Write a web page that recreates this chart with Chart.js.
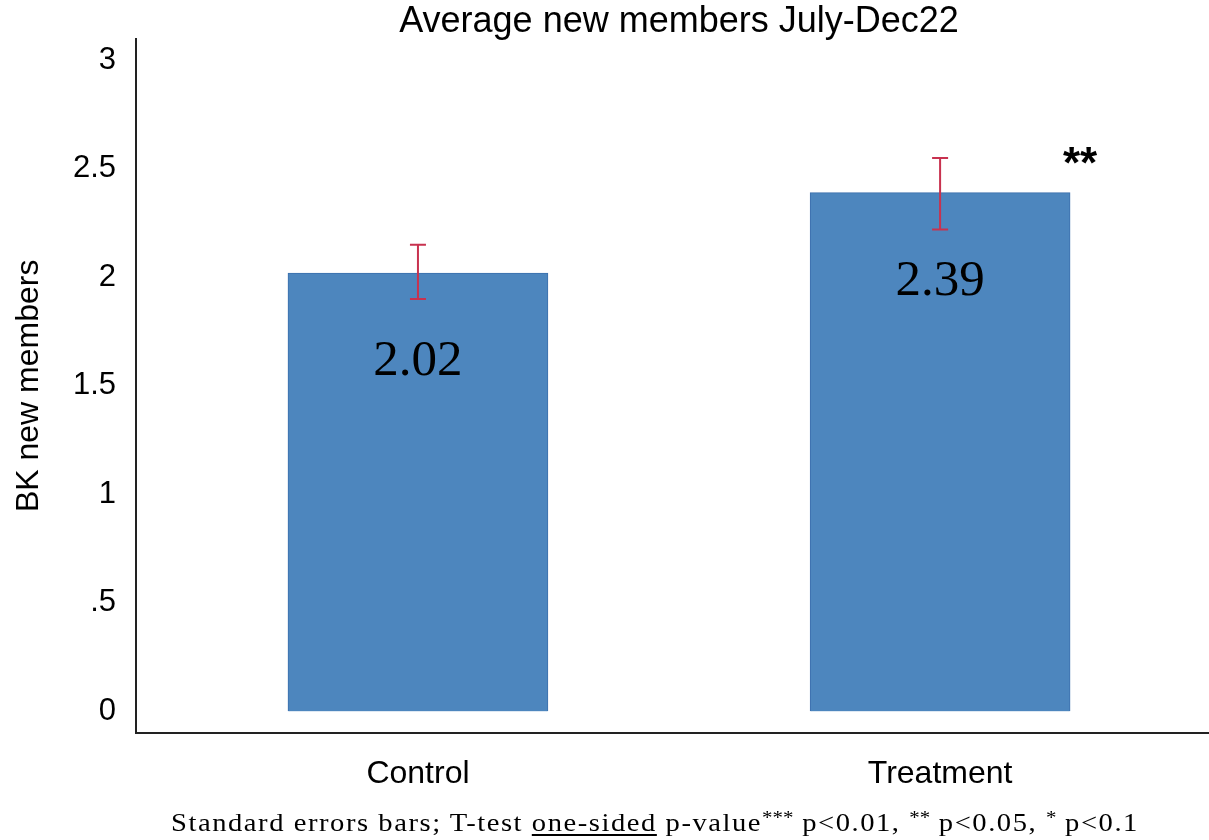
<!DOCTYPE html>
<html>
<head>
<meta charset="utf-8">
<script src="https://cdn.jsdelivr.net/npm/chart.js@4.4.1/dist/chart.umd.min.js"></script>
<style>
  html, body { margin: 0; padding: 0; background: #ffffff; }
  #wrap { position: relative; width: 1209px; height: 840px; overflow: hidden; }
  #c { position: absolute; left: 0; top: 0; }
  #note {
    position: absolute; left: 0; width: 1310px; top: 807px; text-align: center;
    font-family: "Liberation Serif", "Times New Roman", serif; font-size: 26px; color: #000;
    letter-spacing: 1.4px; white-space: nowrap;
    transform: scaleX(1.1); transform-origin: 655px 0;
  }
  #note sup { font-size: 19px; vertical-align: 7px; letter-spacing: 0; }
  #note u { text-decoration-thickness: 1.5px; text-underline-offset: 3px; }
</style>
</head>
<body>
<div id="wrap">
  <canvas id="c" width="1209" height="840"></canvas>
  <div id="note">Standard errors bars; T-test <u>one-sided</u> p-value<sup>***</sup> p&lt;0.01, <sup>**</sup> p&lt;0.05, <sup>*</sup> p&lt;0.1</div>
</div>
<script>
// ---- data ----
const categories = ['Control', 'Treatment'];
const catPositions = [1, 2];
const means = [2.02, 2.39];
const errLow = [1.90, 2.22];
const errHigh = [2.15, 2.55];
const valueLabels = ['2.02', '2.39'];
const sigMarks = ['', '**'];
const yTickValues = [0, 0.5, 1, 1.5, 2, 2.5, 3];
const yTickLabels = ['0', '.5', '1', '1.5', '2', '2.5', '3'];
const titleText = 'Average new members July-Dec22';
const yAxisTitle = 'BK new members';

const barData = catPositions.map((x, i) => ({ x: x, y: means[i] }));

const overlayPlugin = {
  id: 'overlay',
  afterDatasetsDraw(chart) {
    const ctx = chart.ctx;
    const xs = chart.scales.x, ys = chart.scales.y;
    ctx.save();
    // error bars
    ctx.strokeStyle = '#C8324F';
    ctx.lineWidth = 2;
    for (let i = 0; i < means.length; i++) {
      const x = xs.getPixelForValue(catPositions[i]);
      const yt = ys.getPixelForValue(errHigh[i]);
      const yb = ys.getPixelForValue(errLow[i]);
      ctx.beginPath();
      ctx.moveTo(x, yt); ctx.lineTo(x, yb);
      ctx.moveTo(x - 8, yt); ctx.lineTo(x + 8, yt);
      ctx.moveTo(x - 8, yb); ctx.lineTo(x + 8, yb);
      ctx.stroke();
    }
    // value labels
    ctx.fillStyle = '#000';
    ctx.font = '51px "Liberation Serif", "Times New Roman", serif';
    ctx.textAlign = 'center';
    ctx.textBaseline = 'middle';
    for (let i = 0; i < means.length; i++) {
      const x = xs.getPixelForValue(catPositions[i]);
      const y = ys.getPixelForValue(means[i]) + 89;
      ctx.fillText(valueLabels[i], x, y);
    }
    // significance marks
    ctx.font = 'bold 44px "Liberation Sans", Arial, sans-serif';
    for (let i = 0; i < means.length; i++) {
      if (!sigMarks[i]) continue;
      const x = xs.getPixelForValue(catPositions[i]) + 140;
      const y = ys.getPixelForValue(errHigh[i]) + 8;
      ctx.fillText(sigMarks[i], x, y);
    }
    // title
    ctx.font = '36px "Liberation Sans", Arial, sans-serif';
    ctx.fillText(titleText, 679, 22);
    ctx.restore();
  }
};

new Chart(document.getElementById('c'), {
  type: 'bar',
  data: {
    datasets: [{
      data: barData,
      backgroundColor: '#4D86BE',
      borderColor: '#3B6FAD',
      borderWidth: 1,
      barThickness: 260
    }]
  },
  options: {
    responsive: false,
    animation: false,
    devicePixelRatio: 1,
    layout: { padding: { top: 38, left: 0, right: 0, bottom: 0 } },
    plugins: { legend: { display: false }, tooltip: { enabled: false }, title: { display: false } },
    scales: {
      x: {
        type: 'linear',
        offset: false,
        bounds: 'ticks',
        min: 0.46, max: 2.515,
        grid: { display: false, drawTicks: false, offset: false },
        border: { display: true, color: '#222', width: 2 },
        afterBuildTicks: (s) => { s.ticks = catPositions.map(v => ({ value: v })); },
        afterFit: (s) => { s.height = 107; },
        ticks: {
          padding: 22,
          color: '#000',
          font: { family: '"Liberation Sans", Arial, sans-serif', size: 32 },
          callback: (v) => { const i = catPositions.indexOf(v); return i >= 0 ? categories[i] : ''; }
        }
      },
      y: {
        type: 'linear',
        min: -0.1, max: 3.1,
        grid: { display: false, drawTicks: false },
        border: { display: true, color: '#222', width: 2 },
        afterBuildTicks: (s) => { s.ticks = yTickValues.map(v => ({ value: v })); },
        afterFit: (s) => { s.width = 136; },
        title: {
          display: true, text: yAxisTitle, color: '#000',
          font: { family: '"Liberation Sans", Arial, sans-serif', size: 32 },
          padding: { top: 10, bottom: 0 }
        },
        ticks: {
          padding: 20,
          color: '#000',
          font: { family: '"Liberation Sans", Arial, sans-serif', size: 31 },
          callback: (v) => { const i = yTickValues.indexOf(v); return i >= 0 ? yTickLabels[i] : ''; }
        }
      }
    }
  },
  plugins: [overlayPlugin]
});
</script>
</body>
</html>
